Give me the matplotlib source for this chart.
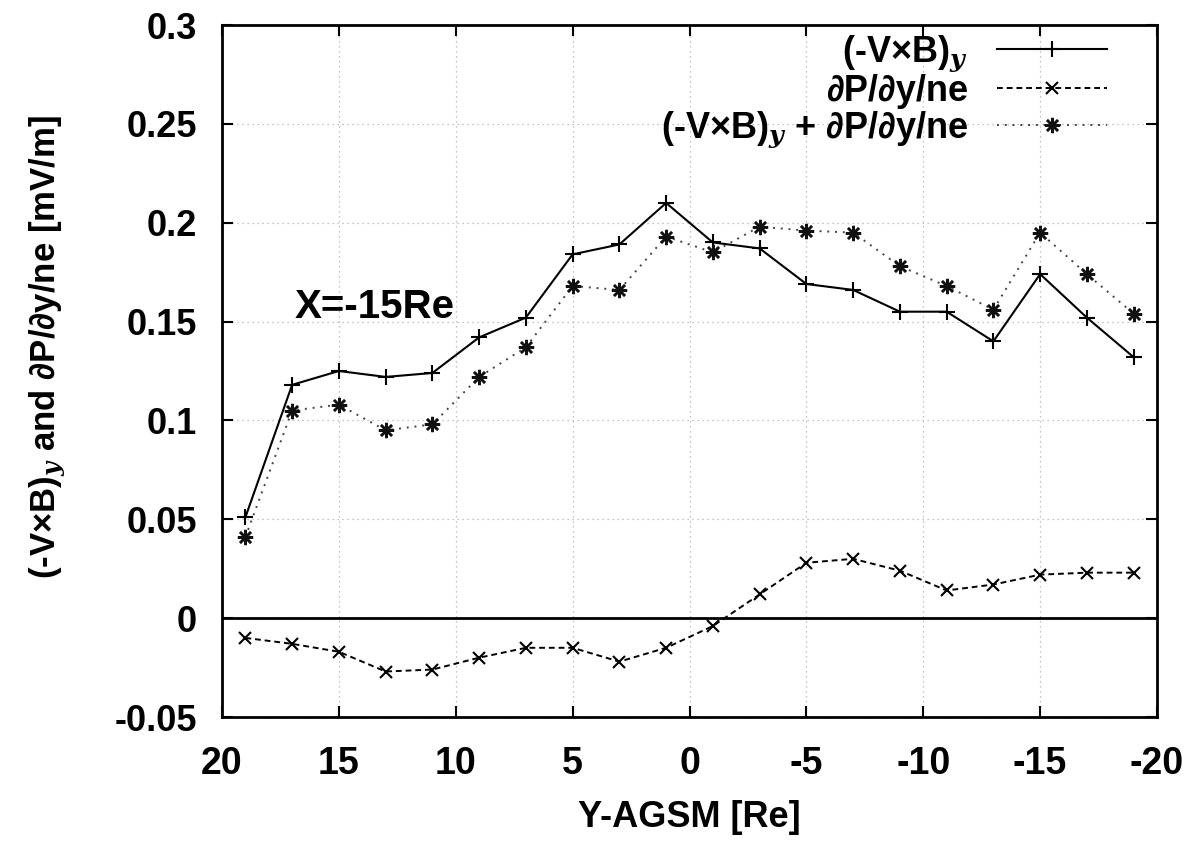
import matplotlib
matplotlib.use("Agg")
import matplotlib.pyplot as plt

plt.rcParams['font.family'] = ['Liberation Sans', 'DejaVu Sans']
plt.rcParams['font.weight'] = 'bold'
plt.rcParams['axes.labelweight'] = 'bold'
plt.rcParams['axes.unicode_minus'] = False
plt.rcParams['mathtext.fontset'] = 'dejavuserif'

# data
y_agsm = [19, 17, 15, 13, 11, 9, 7, 5, 3, 1, -1, -3, -5, -7, -9, -11, -13, -15, -17, -19]
vxb = [0.051, 0.118, 0.125, 0.122, 0.124, 0.142, 0.152, 0.184, 0.189, 0.210,
       0.190, 0.187, 0.169, 0.166, 0.155, 0.155, 0.140, 0.174, 0.152, 0.132]
dpdy = [-0.010, -0.013, -0.017, -0.027, -0.026, -0.020, -0.015, -0.015, -0.022, -0.015,
        -0.004, 0.012, 0.028, 0.030, 0.024, 0.014, 0.017, 0.022, 0.023, 0.023]
total = [0.041, 0.105, 0.108, 0.095, 0.098, 0.122, 0.137, 0.168, 0.166, 0.193,
         0.185, 0.198, 0.196, 0.195, 0.178, 0.168, 0.156, 0.195, 0.174, 0.154]
xticks = [20, 15, 10, 5, 0, -5, -10, -15, -20]
yticks = [-0.05, 0, 0.05, 0.1, 0.15, 0.2, 0.25, 0.3]
yticklabels = ['-0.05', '0', '0.05', '0.1', '0.15', '0.2', '0.25', '0.3']

fig = plt.figure(figsize=(11.91, 8.46), dpi=100)
# axes box: x 222..1157 px, y 25..717 px
ax = fig.add_axes([222 / 1191, 129 / 846, 935 / 1191, 692 / 846])

ax.plot(y_agsm, vxb, color='black', lw=1.5, ls='-', marker='+', ms=11, mew=1.5,
        label='(-V\u00d7B)$_y$')
ax.plot(y_agsm, dpdy, color='black', lw=1.4, ls=(0, (3, 2)), marker='x', ms=8, mew=1.5,
        label='\u2202P/\u2202y/ne')
ax.plot(y_agsm, total, color='#444444', lw=1.4, ls=(0, (1, 3)), marker=(8, 2, 0), ms=11,
        mew=1.8, mec='#111111', label='(-V\u00d7B)$_y$ + \u2202P/\u2202y/ne')
ax.axhline(0, color='black', lw=2)

ax.set_xlim(20, -20)
ax.set_ylim(-0.05, 0.3)
ax.set_xticks(xticks)
ax.set_xticklabels([str(t) for t in xticks])
ax.set_yticks(yticks)
ax.set_yticklabels(yticklabels)
ax.grid(True, color='#b0b0b0', ls=(0, (1, 3)), lw=0.9)
ax.tick_params(direction='in', length=8, width=1.5, top=True, right=True)
ax.tick_params(axis='x', labelsize=27, pad=21)
ax.tick_params(axis='y', labelsize=26, pad=18)
for s in ax.spines.values():
    s.set_linewidth(2)

ax.set_xlabel('Y-AGSM [Re]', fontsize=26)
ax.xaxis.set_label_coords(0.5, -0.12)
ax.set_ylabel('(-V\u00d7B)$_y$ and \u2202P/\u2202y/ne [mV/m]', fontsize=25)
ax.yaxis.set_label_coords(-0.165, 0.535)
ax.text(16.88, 0.152, 'X=-15Re', fontsize=29)

leg = ax.legend(loc='upper right', bbox_to_anchor=(0.9465, 0.988), frameon=False,
                markerfirst=False, fontsize=26, handlelength=3.05, labelspacing=0.0,
                borderaxespad=0, borderpad=0, handletextpad=0.8)
for t in leg.get_texts():
    t.set_ha('right')
leg._legend_box.align = 'right'

fig.savefig('out.png', dpi=100)
